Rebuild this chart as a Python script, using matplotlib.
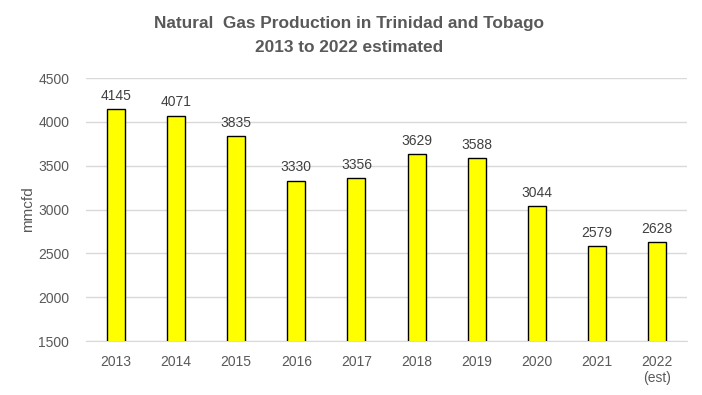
import matplotlib
matplotlib.use("Agg")
import matplotlib.pyplot as plt

years = ["2013", "2014", "2015", "2016", "2017", "2018", "2019", "2020", "2021", "2022\n(est)"]
values = [4145, 4071, 3835, 3330, 3356, 3629, 3588, 3044, 2579, 2628]
yticks = [1500, 2000, 2500, 3000, 3500, 4000, 4500]

plt.rcParams['font.family'] = ['Liberation Sans', 'DejaVu Sans']

fig = plt.figure(figsize=(7.02, 3.95), dpi=100)
ax = fig.add_axes([0.1225, 0.1367, 0.8561, 0.6658])

x = list(range(len(years)))
ax.bar(x, values, width=0.3, color='#FFFF00', edgecolor='black', linewidth=1.0, zorder=3)
for xi, v in zip(x, values):
    ax.text(xi, v + 70, str(v), ha='center', va='bottom', fontsize=10, color='#404040')

ax.set_xlim(-0.5, len(years) - 0.5)
ax.set_ylim(1500, 4500)
ax.set_yticks(yticks)
ax.set_xticks(x)
ax.set_xticklabels(years, fontsize=10, color='#595959')
ax.set_yticklabels([str(t) for t in yticks], fontsize=10, color='#595959')
ax.grid(axis='y', color='#D9D9D9', linewidth=1.0, zorder=0)
for s in ['top', 'right', 'left']:
    ax.spines[s].set_visible(False)
ax.spines['bottom'].set_color('#D9D9D9')
ax.tick_params(axis='both', length=0, pad=10)
ax.tick_params(axis='y', pad=12)
ax.set_ylabel('mmcfd', fontsize=11, color='#595959', labelpad=2)

fig.text(0.497, 0.940, 'Natural  Gas Production in Trinidad and Tobago', ha='center', va='center',
         fontsize=12.4, fontweight='bold', color='#595959')
fig.text(0.497, 0.880, '2013 to 2022 estimated', ha='center', va='center',
         fontsize=12.4, fontweight='bold', color='#595959')

fig.savefig('out.png', dpi=100)
